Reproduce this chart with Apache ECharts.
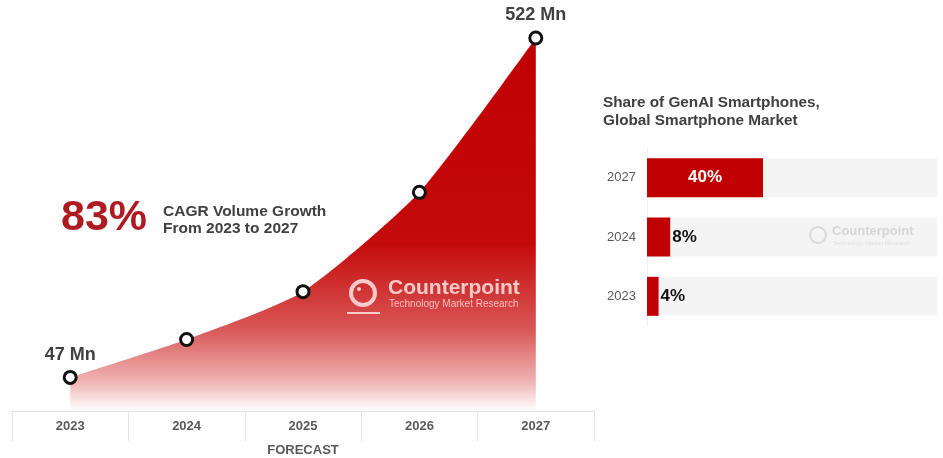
<!DOCTYPE html>
<html>
<head>
<meta charset="utf-8">
<script src="https://cdn.jsdelivr.net/npm/echarts@6/dist/echarts.min.js"></script>
<style>
html, body { margin: 0; padding: 0; background: #fff; }
#main { width: 943px; height: 458px; }
</style>
</head>
<body>
<div id="main"></div>
<script>
// volume forecast (million units)
const years = ['2023', '2024', '2025', '2026', '2027'];
const volumes = [47, 100, 167, 306, 522];

// share of GenAI smartphones (%)
const shareYears = ['2023', '2024', '2027'];
const shareValues = [4, 8, 40];

const font = '"Liberation Sans", Arial, sans-serif';
const red = '#C00000';
const grey = '#404040';
const wmPink = 'rgba(255,222,222,0.88)';

const chart = echarts.init(document.getElementById('main'));

const option = {
    backgroundColor: '#fff',
    animation: false,
    grid: [
        { left: 12, right: 349, top: 18, bottom: 47, outerBoundsMode: 'none', containLabel: false },
        { left: 647, right: 6, top: 148, bottom: 132, outerBoundsMode: 'none', containLabel: false }
    ],
    xAxis: [
        {
            type: 'category',
            gridIndex: 0,
            data: years,
            boundaryGap: true,
            name: 'FORECAST',
            nameLocation: 'middle',
            nameGap: 33,
            nameTextStyle: { color: '#595959', fontSize: 13, fontWeight: 'bold', fontFamily: font },
            axisLine: { show: true, lineStyle: { color: '#e4e4e4', width: 1 } },
            axisTick: { show: true, interval: 0, length: 30, lineStyle: { color: '#e4e4e4' } },
            axisLabel: { color: '#595959', fontSize: 13, fontWeight: 'bold', fontFamily: font, margin: 9 },
            splitLine: { show: false }
        },
        {
            type: 'value',
            gridIndex: 1,
            min: 0,
            max: 100,
            show: false
        }
    ],
    yAxis: [
        {
            type: 'value',
            gridIndex: 0,
            min: 0,
            max: 550,
            show: false
        },
        {
            type: 'category',
            gridIndex: 1,
            data: shareYears,
            axisLine: { show: true, lineStyle: { color: '#f0f0f0' } },
            axisTick: { show: false },
            axisLabel: { color: '#595959', fontSize: 13, fontFamily: font, margin: 11 }
        }
    ],
    series: [
        {
            type: 'line',
            xAxisIndex: 0,
            yAxisIndex: 0,
            data: volumes,
            smooth: 0.2,
            symbol: 'circle',
            symbolSize: 12,
            itemStyle: { color: '#fff', borderColor: '#111', borderWidth: 3 },
            lineStyle: { width: 0 },
            areaStyle: {
                opacity: 1,
                color: new echarts.graphic.LinearGradient(0, 0, 0, 1, [
                    { offset: 0, color: '#C00000' },
                    { offset: 0.55, color: '#C40A0A' },
                    { offset: 0.78, color: '#D95656' },
                    { offset: 0.92, color: '#EFB3B3' },
                    { offset: 1, color: '#FFFFFF' }
                ])
            },
            label: {
                show: true,
                position: 'top',
                distance: 6,
                color: grey,
                fontSize: 18,
                fontWeight: 'bold',
                fontFamily: font,
                formatter: function (p) {
                    return (p.dataIndex === 0 || p.dataIndex === volumes.length - 1) ? p.value + ' Mn' : '';
                }
            },
            z: 3
        },
        {
            type: 'bar',
            xAxisIndex: 1,
            yAxisIndex: 1,
            barWidth: 39,
            showBackground: true,
            backgroundStyle: { color: '#f4f4f4' },
            itemStyle: { color: red },
            data: shareValues.map(function (v) {
                const big = v >= 20;
                return {
                    value: v,
                    label: {
                        position: big ? 'inside' : 'right',
                        color: big ? '#fff' : '#111',
                        distance: 2
                    }
                };
            }),
            label: {
                show: true,
                fontSize: 17,
                fontWeight: 'bold',
                fontFamily: font,
                formatter: '{c}%'
            }
        }
    ],
    graphic: [
        {
            type: 'text',
            left: 61,
            top: 197,
            z: 100,
            style: { text: '83%', fill: '#AE1B20', font: 'bold 43px ' + font }
        },
        {
            type: 'text',
            left: 163,
            top: 203,
            z: 100,
            style: {
                text: 'CAGR Volume Growth\nFrom 2023 to 2027',
                fill: grey,
                font: 'bold 15.5px ' + font,
                lineHeight: 17
            }
        },
        {
            type: 'text',
            left: 603,
            top: 94,
            z: 100,
            style: {
                text: 'Share of GenAI Smartphones,\nGlobal Smartphone Market',
                fill: grey,
                font: 'bold 15.3px ' + font,
                lineHeight: 18
            }
        },
        // watermark on the area
        {
            type: 'ring',
            z: 100,
            shape: { cx: 363, cy: 293, r: 14, r0: 10 },
            style: { fill: wmPink }
        },
        {
            type: 'circle',
            z: 100,
            shape: { cx: 359, cy: 289, r: 2 },
            style: { fill: wmPink }
        },
        {
            type: 'line',
            z: 100,
            shape: { x1: 347, y1: 313, x2: 380, y2: 313 },
            style: { stroke: wmPink, lineWidth: 2 }
        },
        {
            type: 'text',
            z: 100,
            x: 388,
            y: 278,
            style: { text: 'Counterpoint', fill: wmPink, font: 'bold 21px ' + font }
        },
        {
            type: 'text',
            z: 100,
            x: 389,
            y: 299,
            style: { text: 'Technology Market Research', fill: 'rgba(255,210,210,0.85)', font: '10px ' + font }
        },
        // watermark on the share panel
        {
            type: 'ring',
            z: 100,
            shape: { cx: 818, cy: 235, r: 9, r0: 7 },
            style: { fill: '#d9d9d9' }
        },
        {
            type: 'text',
            z: 100,
            x: 832,
            y: 225,
            style: { text: 'Counterpoint', fill: '#d6d6d6', font: 'bold 13px ' + font }
        },
        {
            type: 'text',
            z: 100,
            x: 833,
            y: 240,
            style: { text: 'Technology Market Research', fill: '#dcdcdc', font: '6px ' + font }
        }
    ]
};

chart.setOption(option);
window.addEventListener('resize', function () {
    chart.resize();
});
</script>
</body>
</html>
